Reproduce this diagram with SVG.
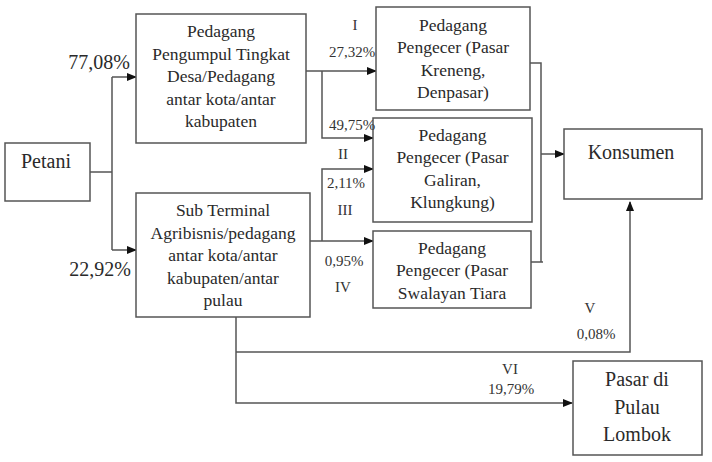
<svg xmlns="http://www.w3.org/2000/svg" width="712" height="462" viewBox="0 0 712 462">
<defs>
<marker id="ah" markerUnits="userSpaceOnUse" markerWidth="10" markerHeight="8" refX="9" refY="4" orient="auto">
<path d="M0,0 L10,4 L0,8 z" fill="#111"/>
</marker>
<style>
.box{fill:#fff;stroke:#555;stroke-width:1.5}
.t{font-family:'Liberation Serif','DejaVu Serif',serif;font-size:17.5px;fill:#2a2a2a;text-anchor:middle}
.big{font-family:'Liberation Serif','DejaVu Serif',serif;font-size:20px;fill:#2a2a2a;text-anchor:middle}
.s{font-family:'Liberation Serif','DejaVu Serif',serif;font-size:15px;fill:#333;text-anchor:middle}
.c{fill:none;stroke:#555;stroke-width:1.5}
.a{fill:none;stroke:#555;stroke-width:1.5;marker-end:url(#ah)}
</style>
</defs>
<rect width="712" height="462" fill="#fff"/>
<g id="connectors">
<path class="c" d="M90,172 H112 M112,77 V250"/>
<path class="a" d="M112,77 H136"/>
<path class="a" d="M112,250 H136"/>
<path class="a" d="M306,71 H376"/>
<path class="a" d="M322,71 V138 H373"/>
<path class="a" d="M310,241 H373"/>
<path class="a" d="M322,241 V169 H373"/>
<path class="c" d="M530,63 H541 V262 M531,262 H543"/>
<path class="a" d="M541,154 H564"/>
<path class="a" d="M236,317 V403 H572"/>
<path class="a" d="M236,352 H630 V202"/>
</g>
<g id="petani">
<rect class="box" x="5" y="143" width="85" height="58"/>
<text class="big" x="46" y="168">Petani</text>
</g>
<g id="pengumpul">
<rect class="box" x="136" y="14" width="170" height="129"/>
<text class="t" x="221" y="37">Pedagang</text>
<text class="t" x="221" y="59.5">Pengumpul Tingkat</text>
<text class="t" x="221" y="82">Desa/Pedagang</text>
<text class="t" x="221" y="104.5">antar kota/antar</text>
<text class="t" x="221" y="127">kabupaten</text>
</g>
<g id="subterminal">
<rect class="box" x="136" y="193" width="174" height="124"/>
<text class="t" x="223" y="216">Sub Terminal</text>
<text class="t" x="223" y="238.5">Agribisnis/pedagang</text>
<text class="t" x="223" y="261">antar kota/antar</text>
<text class="t" x="223" y="283.5">kabupaten/antar</text>
<text class="t" x="223" y="306">pulau</text>
</g>
<g id="kreneng">
<rect class="box" x="376" y="7" width="154" height="103"/>
<text class="t" x="453" y="30.5">Pedagang</text>
<text class="t" x="453" y="53">Pengecer (Pasar</text>
<text class="t" x="453" y="75.5">Kreneng,</text>
<text class="t" x="453" y="98">Denpasar)</text>
</g>
<g id="galiran">
<rect class="box" x="373" y="118" width="159" height="104"/>
<text class="t" x="452.5" y="140.5">Pedagang</text>
<text class="t" x="452.5" y="163">Pengecer (Pasar</text>
<text class="t" x="452.5" y="185.5">Galiran,</text>
<text class="t" x="452.5" y="208">Klungkung)</text>
</g>
<g id="swalayan">
<rect class="box" x="373" y="231" width="158" height="77"/>
<text class="t" x="452" y="253.5">Pedagang</text>
<text class="t" x="452" y="276">Pengecer (Pasar</text>
<text class="t" x="452" y="298.5">Swalayan Tiara</text>
</g>
<g id="konsumen">
<rect class="box" x="564" y="129" width="138" height="70"/>
<text class="big" x="631" y="159">Konsumen</text>
</g>
<g id="lombok">
<rect class="box" x="573" y="361" width="129" height="94"/>
<text class="big" x="637" y="386">Pasar di</text>
<text class="big" x="637" y="413.5">Pulau</text>
<text class="big" x="637" y="441">Lombok</text>
</g>
<g id="labels">
<text class="big" x="99" y="69">77,08%</text>
<text class="big" x="100" y="276">22,92%</text>
<text class="s" x="355" y="29.5">I</text>
<text class="s" x="352" y="56.5">27,32%</text>
<text class="s" x="352" y="129.5">49,75%</text>
<text class="s" x="343" y="158.5">II</text>
<text class="s" x="346" y="187.5">2,11%</text>
<text class="s" x="345" y="214.5">III</text>
<text class="s" x="344" y="265.5">0,95%</text>
<text class="s" x="343" y="291.5">IV</text>
<text class="s" x="590" y="312.5">V</text>
<text class="s" x="596" y="338.5">0,08%</text>
<text class="s" x="510" y="373.5">VI</text>
<text class="s" x="511" y="393.5">19,79%</text>
</g>
</svg>
